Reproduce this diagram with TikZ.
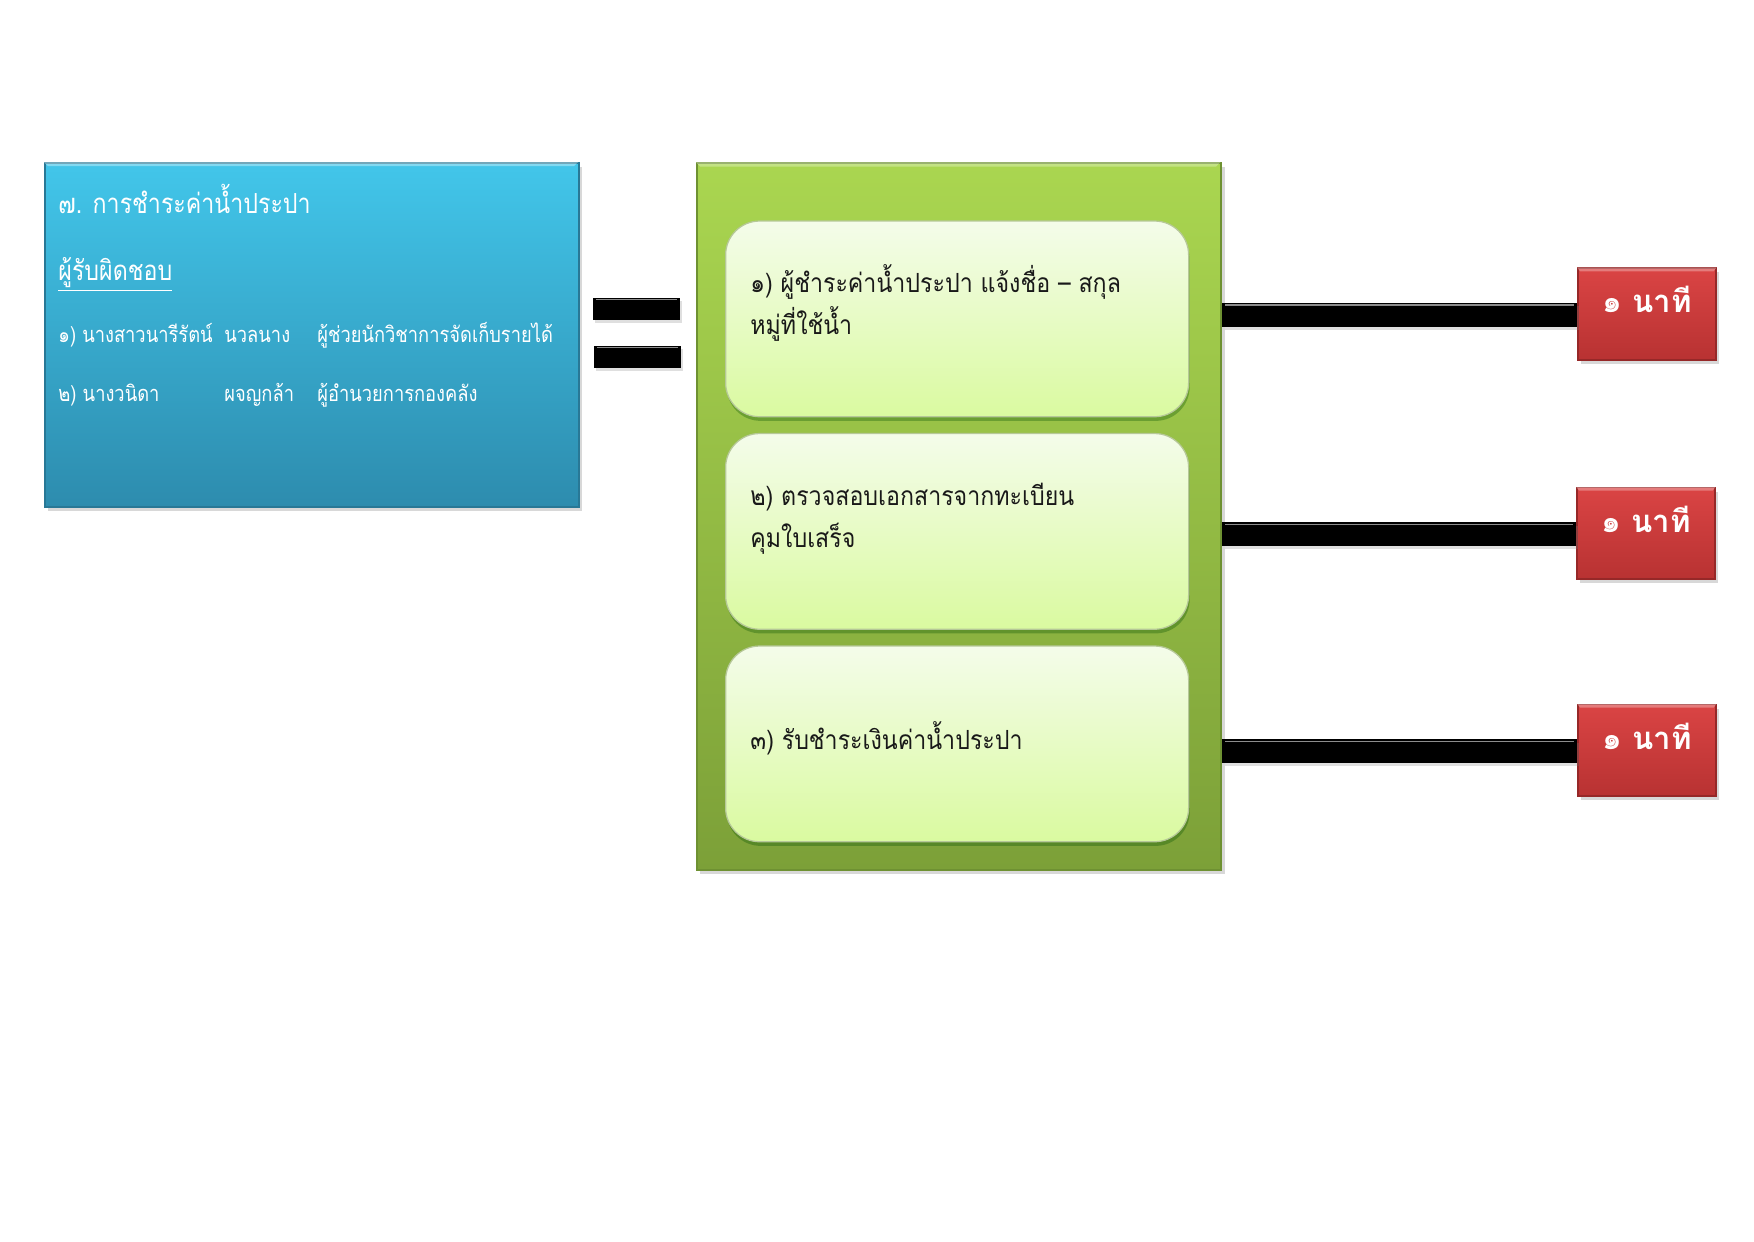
\documentclass[tikz,border=0pt]{standalone}
\usepackage{fontspec}
\newfontfamily\thai[Script=Thai,FakeStretch=0.84]{Loma}
\newfontfamily\thaiin[Script=Thai,FakeStretch=0.88]{Loma}
\newfontfamily\thaired[Script=Thai]{Loma}
\usetikzlibrary{shadows,calc}
\definecolor{bluetop}{RGB}{66,198,234}
\definecolor{bluebot}{RGB}{45,140,174}
\definecolor{blueedge}{RGB}{40,120,150}
\definecolor{greentop}{RGB}{170,214,80}
\definecolor{greenbot}{RGB}{124,160,56}
\definecolor{greenedge}{RGB}{110,145,50}
\definecolor{innertop}{RGB}{244,252,234}
\definecolor{innerbot}{RGB}{218,250,160}
\definecolor{redtop}{RGB}{218,68,68}
\definecolor{redbot}{RGB}{184,50,50}
\definecolor{rededge}{RGB}{150,40,40}
\def\px{0.16933mm}
\tikzset{
  bluebox/.style={rectangle, anchor=north west, top color=bluetop, bottom color=bluebot,
    draw=blueedge, line width=1pt, drop shadow={opacity=0.3, shadow xshift=1.5pt, shadow yshift=-2pt}},
  greenbox/.style={rectangle, anchor=north west, top color=greentop, bottom color=greenbot,
    draw=greenedge, line width=1pt, drop shadow={opacity=0.3, shadow xshift=1.5pt, shadow yshift=-2pt}},
  innerbox/.style={rectangle, rounded corners=34*\px, anchor=north west, top color=innertop, bottom color=innerbot,
    draw=greenedge!50, line width=0.6pt, drop shadow={opacity=0.3, fill=black!70!green, shadow xshift=0.5pt, shadow yshift=-2pt}},
  redbox/.style={rectangle, anchor=north west, top color=redtop, bottom color=redbot,
    draw=rededge, line width=0.8pt, drop shadow={opacity=0.3, shadow xshift=1.5pt, shadow yshift=-2pt}},
  barshape/.style={fill=black, drop shadow={opacity=0.25, shadow xshift=1pt, shadow yshift=-1.5pt}},
  bluetext/.style={anchor=base west, inner sep=0pt, text=white, font=\thai\fontsize{10.5}{12}\selectfont},
  bluehead/.style={anchor=base west, inner sep=0pt, text=white, font=\thai\fontsize{13.3}{16}\selectfont},
  innertext/.style={anchor=base west, inner sep=0pt, text=black!90, font=\thaiin\fontsize{12.7}{15}\selectfont},
  redtext/.style={anchor=base, inner sep=0pt, text=white, font=\thaired\bfseries\fontsize{15}{18}\selectfont},
}
\begin{document}
\begin{tikzpicture}[x=0.16933mm,y=-0.16933mm]
\useasboundingbox[fill=white] (0,0) rectangle (1754,1241);

% left blue box
\node[bluebox, minimum width=534.7*\px, minimum height=343.6*\px] (blue) at (43.6,162) {};
\fill[white, opacity=0.35] (43.6,162) -- (578.3,162) -- (574,166) -- (48,166) -- cycle;

\node[bluehead] (title) at (58,213) {๗. การชำระค่าน้ำประปา};
\node[bluehead] (resp) at (58,280) {\underline{ผู้รับผิดชอบ}};
\node[bluetext] (a1) at (58,342) {๑) นางสาวนารีรัตน์};
\node[bluetext] (a2) at (224,342) {นวลนาง};
\node[bluetext] (a3) at (317,342) {ผู้ช่วยนักวิชาการจัดเก็บรายได้};
\node[bluetext] (b1) at (58,401) {๒) นางวนิดา};
\node[bluetext] (b2) at (224,401) {ผจญกล้า};
\node[bluetext] (b3) at (317,401) {ผู้อำนวยการกองคลัง};

% equal sign bars
\path[barshape] (593,297.5) rectangle (680,320);
\path[barshape] (594,345.6) rectangle (681,368);
\draw[black!45, line width=0.6pt] (596,299.5) -- (677,299.5);
\draw[black!45, line width=0.6pt] (597,347.6) -- (678,347.6);

% green box
\node[greenbox, minimum width=524.6*\px, minimum height=707*\px] (green) at (695.8,162.2) {};
\fill[white, opacity=0.3] (695.8,162.2) -- (1220.4,162.2) -- (1216,166.5) -- (700,166.5) -- cycle;

\node[innerbox, minimum width=463*\px, minimum height=195.7*\px] (s1) at (725,220.4) {};
\node[innerbox, minimum width=463*\px, minimum height=195.7*\px] (s2) at (725,432.9) {};
\node[innerbox, minimum width=463*\px, minimum height=195.7*\px] (s3) at (725,645.4) {};

\node[innertext] (t1a) at (750,292) {๑) ผู้ชำระค่าน้ำประปา แจ้งชื่อ – สกุล};
\node[innertext] (t1b) at (750,334) {หมู่ที่ใช้น้ำ};
\node[innertext] (t2a) at (750,505) {๒) ตรวจสอบเอกสารจากทะเบียน};
\node[innertext] (t2b) at (750,547) {คุมใบเสร็จ};
\node[innertext] (t3a) at (750,749) {๓) รับชำระเงินค่าน้ำประปา};

% red boxes
\node[redbox, minimum width=138*\px, minimum height=91.7*\px] (r1) at (1577,267.3) {};
\node[redbox, minimum width=138*\px, minimum height=91.7*\px] (r2) at (1576,486.6) {};
\node[redbox, minimum width=138*\px, minimum height=91.7*\px] (r3) at (1577,703.6) {};
\foreach \r in {r1,r2,r3}{
  \fill[white, opacity=0.3] (\r.north west) -- (\r.north east) -- ([xshift=-3*\px,yshift=-4*\px]\r.north east) -- ([xshift=3*\px,yshift=-4*\px]\r.north west) -- cycle;
}
\node[redtext] (m1) at ($(r1.north)+(0,45.5)$) {๑ นาที};
\node[redtext] (m2) at ($(r2.north)+(0,45.5)$) {๑ นาที};
\node[redtext] (m3) at ($(r3.north)+(0,45.5)$) {๑ นาที};

% connector bars from green box to red boxes
\path[barshape] (green.east |- 0,303) rectangle (r1.west |- 0,326.6);
\path[barshape] (green.east |- 0,522.4) rectangle (r2.west |- 0,545.9);
\path[barshape] (green.east |- 0,739.4) rectangle (r3.west |- 0,762.9);
\draw[black!45, line width=0.6pt] ([xshift=3*\px]green.east |- 0,305) -- ([xshift=-3*\px]r1.west |- 0,305);
\draw[black!45, line width=0.6pt] ([xshift=3*\px]green.east |- 0,524.4) -- ([xshift=-3*\px]r2.west |- 0,524.4);
\draw[black!45, line width=0.6pt] ([xshift=3*\px]green.east |- 0,741.4) -- ([xshift=-3*\px]r3.west |- 0,741.4);
\end{tikzpicture}
\end{document}
